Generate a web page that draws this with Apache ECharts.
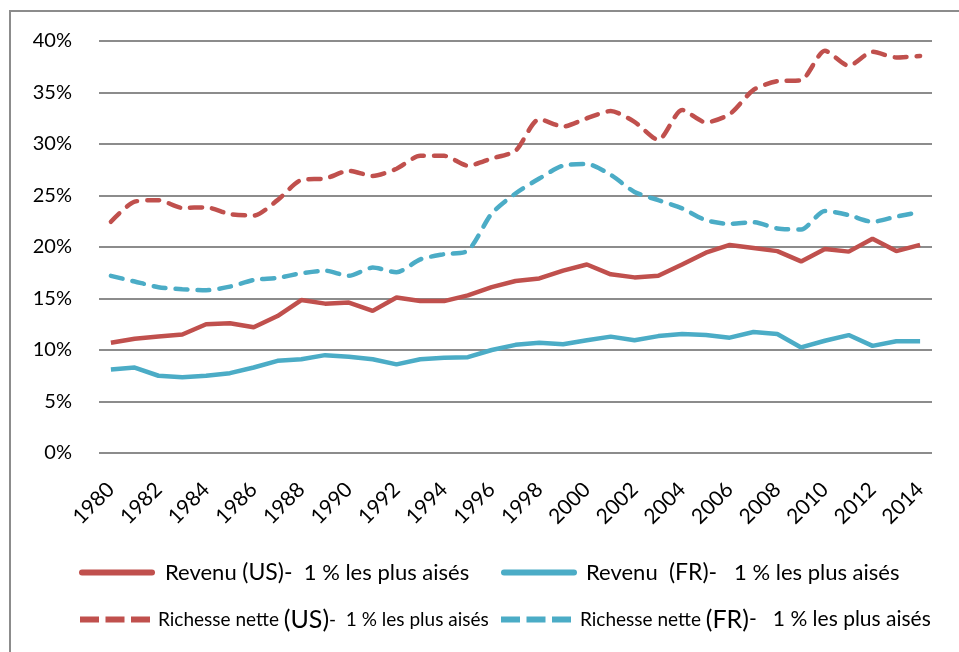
<!DOCTYPE html>
<html><head><meta charset="utf-8">
<script src="https://cdn.jsdelivr.net/npm/echarts@6/dist/echarts.min.js"></script>
<style>html,body{margin:0;padding:0;background:#fff}#c{width:959px;height:652px}</style>
</head><body><div id="c"></div>
<script>
const years = ['1980','1981','1982','1983','1984','1985','1986','1987','1988','1989','1990','1991','1992','1993','1994','1995','1996','1997','1998','1999','2000','2001','2002','2003','2004','2005','2006','2007','2008','2009','2010','2011','2012','2013','2014'];
const revenuUS = [10.7,11.1,11.3,11.5,12.5,12.6,12.2,13.3,14.85,14.5,14.6,13.8,15.1,14.75,14.75,15.3,16.1,16.7,16.95,17.7,18.3,17.35,17.05,17.2,18.3,19.45,20.2,19.9,19.6,18.6,19.8,19.55,20.8,19.6,20.2];
const revenuFR = [8.1,8.3,7.5,7.35,7.5,7.75,8.3,8.95,9.1,9.5,9.35,9.1,8.6,9.1,9.25,9.3,10.0,10.5,10.7,10.55,10.95,11.3,10.95,11.35,11.55,11.45,11.2,11.75,11.55,10.25,10.9,11.45,10.4,10.85,10.85];
const richesseUS = [22.45,24.4,24.55,23.8,23.85,23.2,23.05,24.55,26.5,26.65,27.4,26.9,27.6,28.85,28.85,27.9,28.6,29.35,32.4,31.7,32.5,33.2,32.15,30.4,33.3,32.1,32.9,35.25,36.1,36.2,39.05,37.6,38.95,38.4,38.55];
const richesseFR = [17.2,16.65,16.1,15.9,15.8,16.15,16.8,17.0,17.45,17.7,17.2,18.0,17.55,18.8,19.3,19.65,23.25,25.2,26.65,27.9,28.05,27.0,25.35,24.55,23.75,22.6,22.25,22.4,21.8,21.7,23.5,23.1,22.45,22.95,23.4];
const yTicks = {min: 0, max: 40, interval: 5};
const names = ['Revenu (US)','Revenu (FR)','Richesse nette (US)','Richesse nette (FR)'];

const RED = '#C0504D', BLUE = '#4BACC6';
const FONT = 'Lato, "Open Sans", sans-serif';
const chart = echarts.init(document.getElementById('c'));

function mkLegend(name, left, top, fmt, rich, padLeft, dashed) {
  return {
    data: [name], left: left, top: top, itemWidth: 70, itemHeight: 14, padding: 0,
    formatter: () => fmt,
    itemStyle: {color: 'rgba(0,0,0,0)', borderWidth: 0},
    lineStyle: dashed ? {width: 6, type: [19, 6.5], cap: 'butt'} : {width: 6, type: 'solid', cap: 'round'},
    textStyle: {color: '#000', fontFamily: FONT, padding: [0,0,0,padLeft], rich: rich},
    selectedMode: false
  };
}
const richA = {a: {fontSize: 22, fontFamily: FONT, color: '#000'}, b: {fontSize: 23, fontFamily: FONT, color: '#000'}};
const richB = {a: {fontSize: 19, fontFamily: FONT, color: '#000'}, b: {fontSize: 25, fontFamily: FONT, color: '#000'}, c: {fontSize: 21, fontFamily: FONT, color: '#000'}};

chart.setOption({
  backgroundColor: '#fff',
  animation: false,
  graphic: [{type: 'rect', shape: {x: 10, y: 11, width: 1200, height: 1000}, style: {fill: 'none', stroke: '#8c8c8c', lineWidth: 2}, silent: true}],
  grid: {left: 99, right: 27, top: 41, bottom: 199},
  legend: [
    mkLegend(names[0], 79, 561, '{a|Revenu }{b|(US)-}{a|  1 % les plus aisés}', richA, 8, false),
    mkLegend(names[1], 501, 561, '{a|Revenu  }{b|(FR)-}{a|   1 % les plus aisés}', richA, 7, false),
    mkLegend(names[2], 77, 607, '{a|Richesse nette }{b|(US)}{a|-  1 % les plus aisés}', richB, 3, true),
    mkLegend(names[3], 498, 607, '{a|Richesse nette }{b|(FR)}{c|-   1 % les plus aisés}', richB, 4, true)
  ],
  xAxis: {
    type: 'category', data: years, boundaryGap: true,
    axisLine: {show: false}, axisTick: {show: false},
    axisLabel: {interval: 1, rotate: 45, margin: 33, fontSize: 21, color: '#000', fontFamily: FONT}
  },
  yAxis: {
    type: 'value', min: yTicks.min, max: yTicks.max, interval: yTicks.interval,
    axisLine: {show: false}, axisTick: {show: false},
    axisLabel: {formatter: '{value}%', fontSize: 20, color: '#000', fontFamily: FONT, margin: 27},
    splitLine: {lineStyle: {color: '#8c8c8c', width: 2}}
  },
  series: [
    {name: names[0], type: 'line', data: revenuUS, symbol: 'none', color: RED, lineStyle: {color: RED, width: 4.5}, z: 4},
    {name: names[1], type: 'line', data: revenuFR, symbol: 'none', color: BLUE, lineStyle: {color: BLUE, width: 4.5}, z: 3},
    {name: names[2], type: 'line', data: richesseUS, symbol: 'none', smooth: 0.25, color: RED, lineStyle: {color: RED, width: 4.5, type: [12, 10], cap: 'round'}, z: 4},
    {name: names[3], type: 'line', data: richesseFR, symbol: 'none', smooth: 0.25, color: BLUE, lineStyle: {color: BLUE, width: 4.5, type: [12, 10], cap: 'round'}, z: 3}
  ]
});
</script></body></html>
